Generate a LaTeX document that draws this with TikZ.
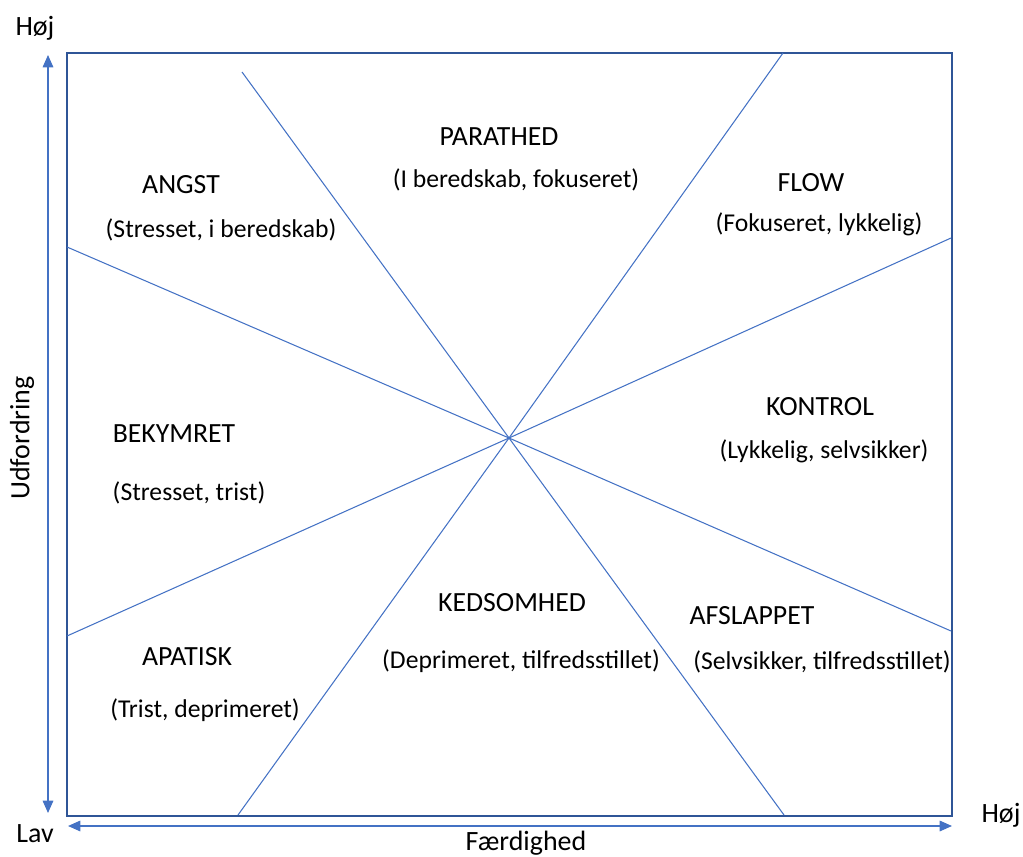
\documentclass[tikz,border=0pt]{standalone}
\usepackage{fontspec}
\setmainfont{Carlito}
\usetikzlibrary{arrows.meta}
\definecolor{linjeblaa}{HTML}{4472C4}
\definecolor{kantblaa}{HTML}{2F5597}
\tikzset{
  zone/.style={font=\fontsize{15.8}{18}\selectfont, text=black},
  zonetekst/.style={font=\fontsize{14.6}{17}\selectfont, text=black},
  akse/.style={font=\fontsize{15.9}{18}\selectfont, text=black},
  deler/.style={color=linjeblaa, line width=0.6pt},
  pil/.style={color=linjeblaa, line width=0.8pt, {Triangle[length=7pt,width=6pt]}-{Triangle[length=7pt,width=6pt]}}
}
\begin{document}
\begin{tikzpicture}[x=0.02cm, y=-0.02cm]
      \useasboundingbox (0,0) rectangle (1023,857);
      % frame
      \draw[color=kantblaa, line width=0.8pt] (67,53) rectangle (952,816);
      % dividing lines through the centre
      \coordinate (c) at (509,438);
      \coordinate (p1) at (242,72);
      \coordinate (p2) at (784,815);
      \coordinate (p3) at (783,53);
      \coordinate (p4) at (238,815);
      \coordinate (p5) at (67,247);
      \coordinate (p6) at (951,631);
      \coordinate (p7) at (67,636);
      \coordinate (p8) at (951,238);
      \draw[deler] (p1) -- (c) -- (p2);
      \draw[deler] (p3) -- (c) -- (p4);
      \draw[deler] (p5) -- (c) -- (p6);
      \draw[deler] (p7) -- (c) -- (p8);
      % axes
      \node[akse] (hojy) at (35,28) {Høj};
      \node[akse] (lav) at (35,834) {Lav};
      \node[akse] (hojx) at (1001,815) {Høj};
      \node[akse, rotate=90] (udf) at (22,438) {Udfordring};
      \node[akse] (faer) at (526,843) {Færdighed};
      \coordinate (yb) at (48,813);
      \coordinate (yt) at (48,55);
      \coordinate (xl) at (68,826);
      \coordinate (xr) at (952,826);
      \draw[pil] (yb) -- (yt);
      \draw[pil] (xl) -- (xr);
      % zones
      \node[zone] (angst) at (181,185) {ANGST};
      \node[zonetekst] (angstt) at (221,230) {(Stresset, i beredskab)};
      \node[zone] (parat) at (499,137) {PARATHED};
      \node[zonetekst] (paratt) at (516,180) {(I beredskab, fokuseret)};
      \node[zone] (flow) at (811,183) {FLOW};
      \node[zonetekst] (floww) at (819,224) {(Fokuseret, lykkelig)};
      \node[zone] (bekym) at (174,434) {BEKYMRET};
      \node[zonetekst] (bekymt) at (189,493) {(Stresset, trist)};
      \node[zone] (kontrol) at (820,407) {KONTROL};
      \node[zonetekst] (kontrolt) at (824,451) {(Lykkelig, selvsikker)};
      \node[zone] (keds) at (512,603) {KEDSOMHED};
      \node[zonetekst] (kedst) at (521,661) {(Deprimeret, tilfredsstillet)};
      \node[zone] (afsl) at (752,616) {AFSLAPPET};
      \node[zonetekst] (afslt) at (822,662) {(Selvsikker, tilfredsstillet)};
      \node[zone] (apat) at (187,657) {APATISK};
      \node[zonetekst] (apatt) at (205,710) {(Trist, deprimeret)};
\end{tikzpicture}
\end{document}
